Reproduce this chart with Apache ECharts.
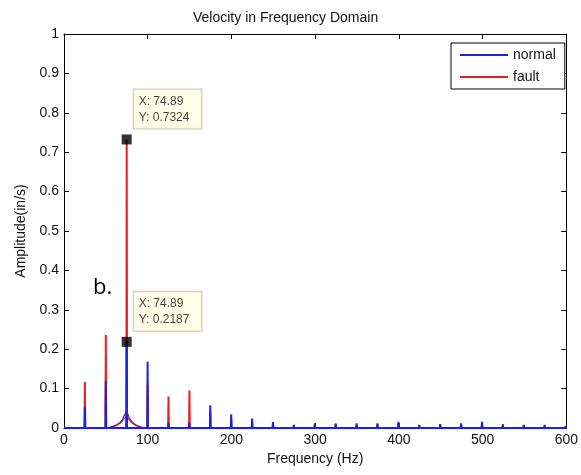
<!DOCTYPE html>
<html>
<head>
<meta charset="utf-8">
<script src="https://cdn.jsdelivr.net/npm/echarts@6/dist/echarts.min.js"></script>
<style>
  html, body { margin: 0; padding: 0; background: #fff; }
  #chart { width: 581px; height: 475px; }
</style>
</head>
<body>
<div id="chart"></div>
<script>
// harmonic peak frequencies (Hz) and amplitudes (in/s)
const peakFreq = [24.96, 49.93, 74.89, 99.85, 124.8, 149.8, 174.7, 199.7, 224.7, 249.6, 274.6, 299.6,
  324.5, 349.5, 374.4, 399.4, 424.4, 449.3, 474.3, 499.3, 524.2, 549.2, 574.1, 599.1];
const normalPeaks = [0.054, 0.12, 0.2187, 0.168, 0.013, 0.014, 0.058, 0.035, 0.024, 0.015, 0.008, 0.012,
  0.01, 0.012, 0.012, 0.016, 0.008, 0.01, 0.012, 0.016, 0.008, 0.008, 0.008, 0.005];
const faultPeaks = [0.117, 0.236, 0.7324, 0.11, 0.08, 0.095, 0.04, 0.025, 0.015, 0.01, 0.006, 0.008,
  0.012, 0.008, 0.01, 0.012, 0.006, 0.008, 0.01, 0.012, 0.01, 0.006, 0.006, 0.004];

// broad low hump around the 3x peak
const humpFreq = [52, 58, 63, 67, 70, 72, 74, 76, 78, 81, 85, 90, 96];
const normalHump = [0, 0.004, 0.008, 0.014, 0.022, 0.032, 0.042, 0.036, 0.026, 0.016, 0.009, 0.004, 0];
const faultHump = [0, 0.003, 0.007, 0.012, 0.018, 0.025, 0.03, 0.027, 0.02, 0.013, 0.007, 0.003, 0];

const xTicks = [0, 100, 200, 300, 400, 500, 600];
const yTicks = [0, 0.1, 0.2, 0.3, 0.4, 0.5, 0.6, 0.7, 0.8, 0.9, 1];

const tips = [
  { x: 74.89, y: 0.7324 },
  { x: 74.89, y: 0.2187 }
];

const font = "Liberation Sans, Arial, sans-serif";

function spikes(heights) {
  const pts = [[0, 0]];
  peakFreq.forEach((f, i) => {
    pts.push([f - 0.4, 0], [f, heights[i]], [f + 0.4, 0]);
  });
  pts.push([600, 0]);
  return pts;
}

function pairs(xs, ys) {
  return xs.map((x, i) => [x, ys[i]]);
}

const chart = echarts.init(document.getElementById("chart"));

const axisCommon = {
  type: "value",
  axisLine: { show: true, onZero: false, lineStyle: { color: "#000", width: 1 } },
  axisTick: { inside: true, length: 5, lineStyle: { color: "#000" } },
  splitLine: { show: false }
};

chart.setOption({
  animation: false,
  title: {
    text: "Velocity in Frequency Domain",
    left: 193,
    top: 11,
    padding: 0,
    textStyle: { fontFamily: font, fontSize: 14, fontWeight: "normal", color: "#111" }
  },
  legend: {
    data: ["normal", "fault"],
    orient: "vertical",
    left: 451,
    top: 43,
    padding: [5, 9, 5, 9],
    icon: "rect",
    itemWidth: 48,
    itemHeight: 2,
    itemGap: 8,
    borderColor: "#000",
    borderWidth: 1,
    backgroundColor: "#fff",
    textStyle: { fontFamily: font, fontSize: 14, color: "#111", lineHeight: 14 }
  },
  grid: { left: 64, right: 9, top: 34, bottom: 47 },
  xAxis: [
    Object.assign({}, axisCommon, {
      min: xTicks[0],
      max: xTicks[xTicks.length - 1],
      interval: 100,
      name: "Frequency (Hz)",
      nameLocation: "middle",
      nameGap: 18,
      nameTextStyle: { fontFamily: font, fontSize: 14, color: "#111" },
      axisLabel: { margin: 5, fontFamily: font, fontSize: 14, color: "#111" }
    }),
    Object.assign({}, axisCommon, {
      position: "top",
      min: xTicks[0],
      max: xTicks[xTicks.length - 1],
      interval: 100,
      axisLabel: { show: false }
    })
  ],
  yAxis: [
    Object.assign({}, axisCommon, {
      min: yTicks[0],
      max: yTicks[yTicks.length - 1],
      interval: 0.1,
      name: "Amplitude(in/s)",
      nameLocation: "middle",
      nameGap: 36,
      nameTextStyle: { fontFamily: font, fontSize: 14, color: "#111" },
      axisLabel: {
        margin: 5, fontFamily: font, fontSize: 14, color: "#111",
        formatter: v => String(Math.round(v * 10) / 10)
      }
    }),
    Object.assign({}, axisCommon, {
      position: "right",
      min: yTicks[0],
      max: yTicks[yTicks.length - 1],
      interval: 0.1,
      axisLabel: { show: false }
    })
  ],
  graphic: [
    {
      type: "text",
      left: 93,
      top: 277,
      style: { text: "b.", fontFamily: "Open Sans, sans-serif", fontSize: 22, fill: "#000" }
    }
  ],
  series: [
    {
      name: "fault",
      type: "line",
      symbol: "none",
      color: "#ee1c1c",
      lineStyle: { width: 2 },
      data: spikes(faultPeaks),
      z: 2
    },
    {
      name: "fault",
      type: "line",
      symbol: "none",
      color: "#c0208a",
      lineStyle: { width: 1.2 },
      data: pairs(humpFreq, faultHump),
      z: 2
    },
    {
      name: "normal",
      type: "line",
      symbol: "none",
      color: "#1a22e0",
      lineStyle: { width: 2 },
      data: spikes(normalPeaks),
      z: 3
    },
    {
      name: "normal",
      type: "line",
      symbol: "none",
      color: "#6a1aa0",
      lineStyle: { width: 1.2 },
      data: pairs(humpFreq, normalHump),
      z: 3
    },
    {
      name: "tips",
      type: "scatter",
      symbol: "rect",
      symbolSize: 10,
      itemStyle: { color: "#000" },
      z: 10,
      data: tips.map(t => [t.x, t.y]),
      label: {
        show: true,
        position: [12, -45],
        align: "left",
        verticalAlign: "top",
        formatter: p => "X: " + p.value[0].toFixed(2) + "\nY: " + p.value[1].toFixed(4),
        fontFamily: font,
        fontSize: 12,
        lineHeight: 16,
        color: "#111",
        backgroundColor: "#ffffe1",
        borderColor: "#b8b8a8",
        borderWidth: 1,
        padding: [4, 12, 3, 5]
      }
    }
  ]
});
</script>
</body>
</html>
